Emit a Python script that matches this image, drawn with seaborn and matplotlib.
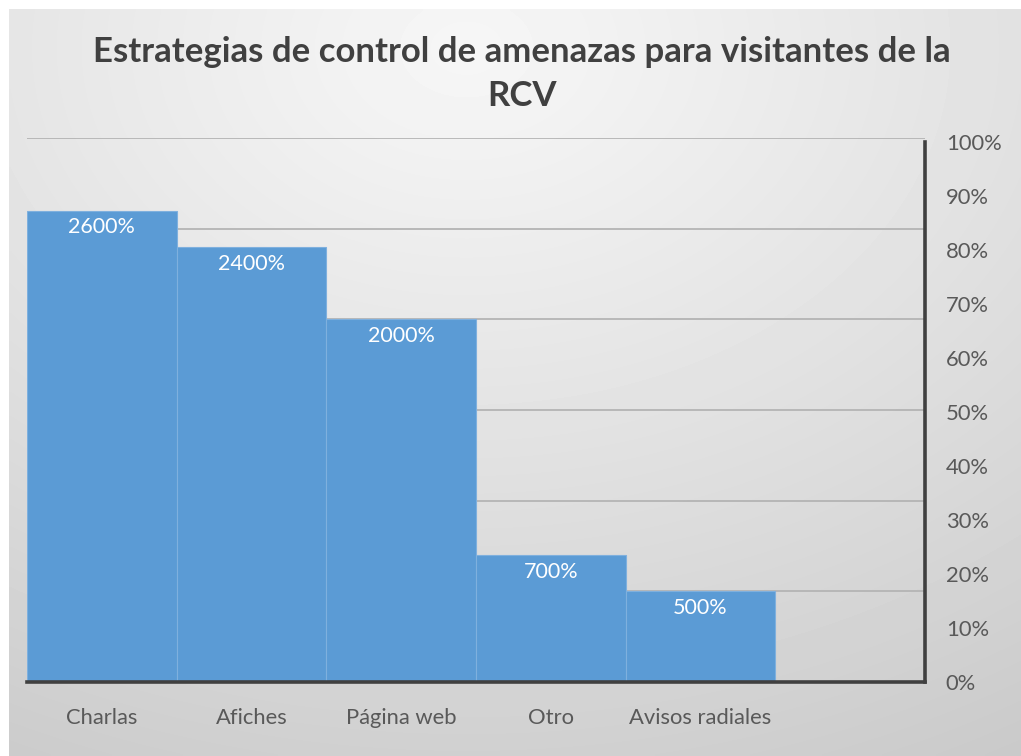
import numpy as np
import pandas as pd
import matplotlib
matplotlib.use("Agg")
import matplotlib.pyplot as plt
import seaborn as sns
from matplotlib.ticker import PercentFormatter, MultipleLocator

# ---- data ----
categories = ["Charlas", "Afiches", "Página web", "Otro", "Avisos radiales"]
values = [26, 24, 20, 7, 5]
value_labels = ["2600%", "2400%", "2000%", "700%", "500%"]
title = "Estrategias de control de amenazas para visitantes de la\nRCV"

sns.set_theme(style="white")
plt.rcParams["font.family"] = ["Lato", "DejaVu Sans"]

W, H = 1021, 756
fig = plt.figure(figsize=(W / 100, H / 100), dpi=100)
fig.patch.set_facecolor("white")

# background gradient panel
bg = fig.add_axes([9 / W, 0, 1 - 9 / W, 1 - 9 / H])
ny, nx = 200, 270
yy, xx = np.mgrid[0:ny, 0:nx]
cx, cy = nx * 0.45, ny * 0.05
d = np.sqrt(((xx - cx) / nx) ** 2 + ((yy - cy) / ny) ** 2)
d = d / d.max()
light, dark = 0.965, 0.79
img = light - (light - dark) * d ** 1.1
bg.imshow(img, cmap="gray", vmin=0, vmax=1, aspect="auto", interpolation="bilinear")
bg.set_axis_off()

# main axes
x0, x1 = 27 / W, 925 / W
y0, y1 = (H - 682) / H, (H - 138) / H
ax = fig.add_axes([x0, y0, x1 - x0, y1 - y0])
ax.patch.set_alpha(0)

df = pd.DataFrame({"cat": categories, "val": values})
sns.barplot(data=df, x="cat", y="val", color="#5B9BD5", saturation=1,
            width=1.0, edgecolor="#7FB0DE", linewidth=0.8, ax=ax, zorder=3)
ax.set_xlim(-0.5, 5.5)
ax.set_ylim(0, 30)
ax.yaxis.set_major_locator(MultipleLocator(5))
ax.grid(axis="y", color="#b4b4b4", linewidth=1.3, zorder=0)
ax.set_axisbelow(True)
ax.set_yticklabels([])
ax.tick_params(axis="y", length=0)
ax.tick_params(axis="x", length=0, pad=19, labelsize=15.8, labelcolor="#595959")
ax.set_xlabel("")
ax.set_ylabel("")
for s in ["top", "left", "right"]:
    ax.spines[s].set_visible(False)
ax.spines["bottom"].set_color("#404040")
ax.spines["bottom"].set_linewidth(2.6)
ax.spines["bottom"].set_zorder(5)

for i, (v, lab) in enumerate(zip(values, value_labels)):
    ax.annotate(lab, (i, v), xytext=(0, -5), textcoords="offset points",
                ha="center", va="top", color="white", fontsize=15.5, zorder=6)

# right percentage axis
ax2 = ax.twinx()
ax2.set_ylim(0, 30 / 29.8)
ax2.set_yticks(np.arange(0, 1.01, 0.1))
ax2.yaxis.set_major_formatter(PercentFormatter(1.0, decimals=0))
ax2.tick_params(axis="y", length=0, pad=15, labelsize=15.8, labelcolor="#595959")
for s in ["top", "left", "bottom"]:
    ax2.spines[s].set_visible(False)
ax2.spines["right"].set_color("#404040")
ax2.spines["right"].set_linewidth(2.6)
ax2.spines["right"].set_bounds(0, 1)
ax2.grid(False)

fig.text(522 / W, 1 - 74 / H, title, ha="center", va="center",
         fontsize=25, fontweight="bold", color="#404040", linespacing=1.45)

fig.savefig("out.png", dpi=100)
